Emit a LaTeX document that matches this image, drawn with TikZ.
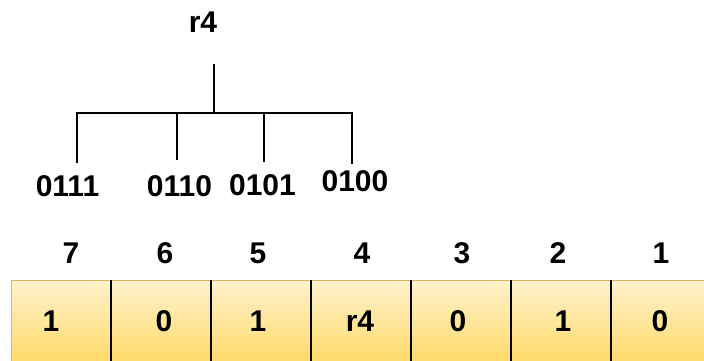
\documentclass[tikz,border=0pt]{standalone}
\usepackage{fontspec}
\setmainfont{Liberation Sans}
\usetikzlibrary{positioning}
\definecolor{cellline}{HTML}{D6B656}
\definecolor{celltop}{HTML}{FFF2CC}
\definecolor{cellbot}{HTML}{FFD966}

\begin{document}
\begin{tikzpicture}[x=1pt,y=-1pt,
                    lbl/.style={inner sep=0pt,font=\fontsize{30}{32}\selectfont\bfseries},
                    branch/.style={line width=2.9pt},
                    row/.style={draw=cellline,line width=1.2pt,
                                top color=celltop,bottom color=cellbot,
                                minimum width=701pt,minimum height=84pt,
                                inner sep=0pt,anchor=north west}]
  \useasboundingbox (0,0) rectangle (704,360);
  \clip (0,0) rectangle (704,360);

  % tree of the register r4
  \node[lbl] (root) at (203,22) {r4};
  \coordinate (stem) at (214,64);
  \coordinate (hub) at (214,113);
  \node[lbl] (b7) at (67.5,186) {0111};
  \node[lbl] (b6) at (179.5,186) {0110};
  \node[lbl] (b5) at (262.5,185) {0101};
  \node[lbl] (b4) at (355,181.5) {0100};
  \coordinate (d7) at (77,163);
  \coordinate (d6) at (177,160);
  \coordinate (d5) at (264,162);
  \coordinate (d4) at (352,164);
  \draw[branch] (stem) -- (hub);
  \draw[branch] (d7) |- (hub) -| (d4);
  \draw[branch] (hub -| d6) -- (d6);
  \draw[branch] (hub -| d5) -- (d5);

  % bit positions and the row of cells
  \foreach \n/\x in {7/71,6/165,5/258,4/362,3/462,2/558,1/661}
    \node[lbl] (h\n) at (\x,253) {\n};
  \node[row] (cells) at (11,280) {};
  \foreach \i in {1,...,6}
    \draw[line width=1.2pt] ([xshift=100*\i pt]cells.north west)
                            -- ([xshift=100*\i pt]cells.south west);
  \foreach \v/\x [count=\i] in {1/51,0/164,1/258,r4/360,0/458,1/563,0/660}
    \node[lbl] (v\i) at (\x,321) {\v};
\end{tikzpicture}
\end{document}
